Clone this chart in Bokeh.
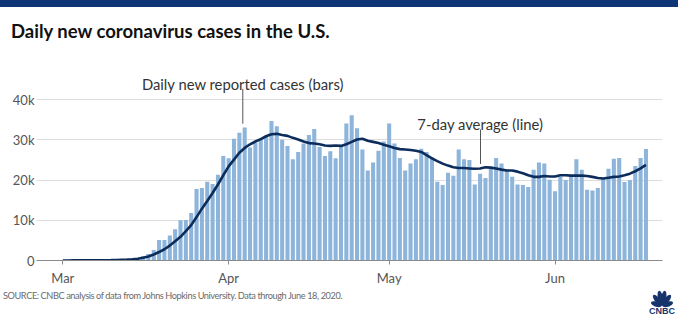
import numpy as np
import pandas as pd
from bokeh.plotting import figure
from bokeh.layouts import column
from bokeh.models import Range1d, FixedTicker, Label, Arrow, Div
from bokeh.embed import file_html
from bokeh.resources import INLINE

# ---------------- data ----------------
start_date = "2020-03-01"
end_date = "2020-06-18"

cases_mar = [10, 20, 30, 40, 60, 80, 100, 120, 150, 200, 250, 300, 350, 450, 550,
             1100, 1600, 2600, 5100, 5100, 6200, 7800, 10000, 10100, 11800,
             17800, 18000, 19600, 19000, 21300, 26000]
cases_apr = [25400, 30300, 31800, 33100, 28100, 29300, 30300, 31000, 34700, 33400,
             30000, 28500, 25200, 27000, 29100, 31200, 32700, 28200, 26000, 27200,
             25400, 28400, 34100, 36100, 32900, 27600, 22400, 24400, 27300, 29600]
cases_may = [34100, 29100, 25500, 22400, 24100, 25200, 27800, 27000, 25700, 19600,
             18800, 21800, 21100, 27600, 25200, 25000, 18900, 21600, 20500, 23300,
             25500, 24100, 22600, 20800, 18900, 18800, 18300, 22600, 24400, 24100, 20100]
cases_jun = [17200, 20800, 20000, 21200, 25200, 22600, 17600, 17400, 18000, 20300,
             22800, 25300, 25500, 19500, 20000, 23500, 25500, 27700]

avg_mar = [10, 10, 20, 20, 30, 40, 50, 60, 80, 100, 130, 180, 220, 300, 450, 700,
           1000, 1500, 2100, 2800, 3700, 4800, 5900, 7300, 8800, 10800, 12900,
           14800, 16800, 18900, 21200]
avg_apr = [23400, 25100, 26800, 28000, 28900, 29600, 30200, 30900, 31400, 31500,
           31200, 31000, 30500, 30100, 29600, 29200, 29100, 28900, 28600, 28500,
           28600, 28500, 28900, 29500, 30100, 30300, 29800, 29500, 29200, 28800]
avg_may = [28400, 28000, 27700, 27600, 27500, 27300, 27000, 26200, 25400, 24700,
           24100, 23600, 23200, 23000, 23000, 22900, 22800, 22900, 23200, 23100,
           22900, 22600, 22400, 22400, 22100, 21700, 21200, 20800, 20800, 21000, 20900]
avg_jun = [20900, 21200, 21200, 21100, 21100, 21100, 21000, 20800, 20500, 20400,
           20600, 20800, 20900, 21200, 21600, 22200, 22900, 23800]

month_starts = ["2020-03-01", "2020-04-01", "2020-05-01", "2020-06-01"]
month_labels = ["Mar", "Apr", "May", "Jun"]
y_ticks = [0, 10000, 20000, 30000, 40000]
y_labels = ["0", "10k", "20k", "30k", "40k"]

title_text = "Daily new coronavirus cases in the U.S."
bars_note = "Daily new reported cases (bars)"
line_note = "7-day average (line)"
source_text = "SOURCE: CNBC analysis of data from Johns Hopkins University. Data through June 18, 2020."
logo_text = "CNBC"

# ---------------- build ----------------
dates = pd.date_range(start_date, end_date, freq="D")
day = np.asarray((dates - dates[0]).days)
cases = cases_mar + cases_apr + cases_may + cases_jun
avg = avg_mar + avg_apr + avg_may + avg_jun
month_days = [int((pd.Timestamp(m) - dates[0]).days) for m in month_starts]

W, H = 678, 321
HEAD_H = 50            # header strip (band + title)
FOOT_Y = 288           # footer strip starts here
FL, FR, FB = 36, 662, 261
PX_DAY = 5.35
X0_PX = 62.3
PX_10K = 40.4
FONT = "Lato"

x_start = (FL - X0_PX) / PX_DAY
x_end = (FR - X0_PX) / PX_DAY
y_end = (FB - HEAD_H) / PX_10K * 10000


def X(px):
    return (px - X0_PX) / PX_DAY


def Y(py):
    return (FB - py) / PX_10K * 10000


# ---- header (band + title) ----
head_html = (
    f'<div style="position:relative;width:{W}px;height:{HEAD_H}px;overflow:hidden;background:#ffffff;">'
    f'<div style="position:absolute;left:0;top:0;width:{W}px;height:7px;background:#0e3677;"></div>'
    f'<div style="position:absolute;left:11px;top:21.6px;font-family:Lato;font-weight:bold;'
    f'font-size:18.5px;line-height:1;color:#111111;white-space:nowrap;">{title_text}</div>'
    f'</div>'
)
head = Div(text=head_html, width=W, height=HEAD_H, margin=0)

# ---- chart ----
p = figure(width=W, height=FOOT_Y - HEAD_H, output_backend="svg", toolbar_location=None,
           x_range=Range1d(x_start, x_end), y_range=Range1d(0, y_end),
           min_border_left=FL, min_border_right=W - FR,
           min_border_top=0, min_border_bottom=FOOT_Y - FB)
p.outline_line_color = None
p.background_fill_color = "white"
p.border_fill_color = "white"

yt = FixedTicker(ticks=y_ticks)
p.yaxis.ticker = yt
p.yaxis.major_label_overrides = dict(zip(y_ticks, y_labels))
p.yaxis.axis_line_color = None
p.yaxis.major_tick_line_color = None
p.yaxis.major_tick_out = 0
p.yaxis.major_tick_in = 0
p.yaxis.minor_tick_line_color = None
p.yaxis.major_label_standoff = 2
p.yaxis.major_label_text_font = FONT
p.yaxis.major_label_text_font_size = "13px"
p.yaxis.major_label_text_color = "#555555"

xt = FixedTicker(ticks=month_days)
p.xaxis.ticker = xt
p.xaxis.major_label_overrides = dict(zip(month_days, month_labels))
p.xaxis.axis_line_color = "#8a8a8a"
p.xaxis.axis_line_width = 1
p.xaxis.major_tick_line_color = "#8a8a8a"
p.xaxis.major_tick_in = 0
p.xaxis.major_tick_out = 4
p.xaxis.minor_tick_line_color = None
p.xaxis.major_label_standoff = 5
p.xaxis.major_label_text_font = FONT
p.xaxis.major_label_text_font_size = "13px"
p.xaxis.major_label_text_color = "#555555"

p.xgrid.visible = False
p.ygrid.ticker = yt
p.ygrid.grid_line_color = "#dddddd"
p.ygrid.grid_line_width = 1

p.vbar(x=day, top=cases, width=0.76, fill_color="#8db4da", line_color=None)
p.line(day, avg, line_color="#0c2c5c", line_width=2.6)

p.add_layout(Label(x=X(242.5), y=Y(83.5), text=bars_note, text_font=FONT,
                   text_font_size="14.8px", text_color="#333333",
                   text_baseline="alphabetic", text_align="center"))
p.add_layout(Arrow(end=None, x_start=X(242.3), y_start=Y(88.5), x_end=X(242.3), y_end=Y(123.5),
                   line_color="#555555", line_width=1))
p.add_layout(Label(x=X(479.8), y=Y(124), text=line_note, text_font=FONT,
                   text_font_size="14.8px", text_color="#333333",
                   text_baseline="alphabetic", text_align="center"))
p.add_layout(Arrow(end=None, x_start=X(480), y_start=Y(129.3), x_end=X(480), y_end=Y(164),
                   line_color="#555555", line_width=1))


# ---- footer (source + logo) ----
def petal_path(cx0, cy0, ang_deg, r0, length, hw, n=24):
    t = np.linspace(0, 2 * np.pi, n)
    a = length / 2.0
    u = r0 + a + a * np.cos(t)
    v = hw * np.sin(t)
    th = np.radians(ang_deg)
    pxs = cx0 + u * np.cos(th) - v * np.sin(th)
    pys = cy0 - (u * np.sin(th) + v * np.cos(th))
    pts = " L ".join(f"{a_:.2f} {b_:.2f}" for a_, b_ in zip(pxs, pys))
    return f"M {pts} Z"


FOOT_H = H - FOOT_Y
logo_cx, logo_base = 662, 306 - FOOT_Y
paths = "".join(
    f'<path d="{petal_path(logo_cx, logo_base, ang, 0.5, ln, 2.6)}" fill="#17346b"/>'
    for ang, ln in zip([162, 128, 101, 79, 52, 18], [11, 13.5, 15, 15, 13.5, 11])
)
logo_svg = (
    f'<svg width="{W}" height="{FOOT_H}" style="position:absolute;left:0;top:0;">{paths}'
    f'<text x="{logo_cx}" y="{313.5 - FOOT_Y}" text-anchor="middle" font-family="Lato" '
    f'font-weight="bold" font-size="9" fill="#17346b">{logo_text}</text></svg>'
)
foot_html = (
    f'<div style="position:relative;width:{W}px;height:{FOOT_H}px;overflow:hidden;background:#ffffff;">'
    f'<div style="position:absolute;left:3px;top:3px;font-family:Lato;font-size:9.2px;line-height:1;'
    f'letter-spacing:-0.41px;color:#6a6a6a;white-space:nowrap;">{source_text}</div>'
    f'{logo_svg}</div>'
)
foot = Div(text=foot_html, width=W, height=FOOT_H, margin=0)

layout = column(head, p, foot, spacing=0)
open("out.html", "w").write(file_html(layout, INLINE))
